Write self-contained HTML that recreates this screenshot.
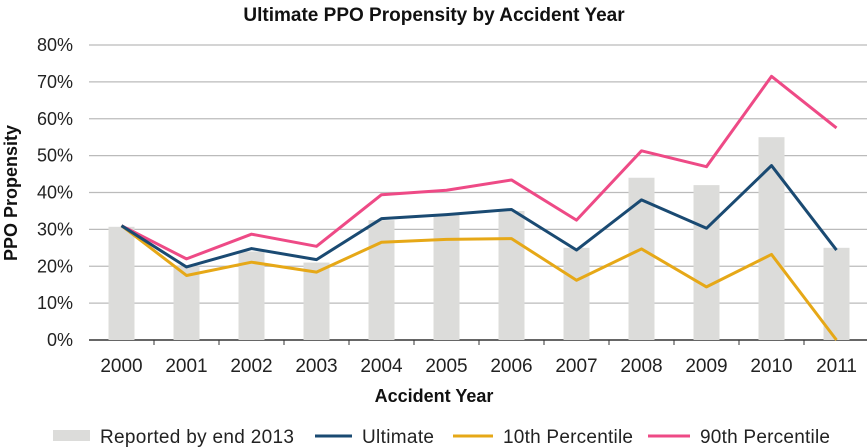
<!DOCTYPE html>
<html><head><meta charset="utf-8"><style>
body{margin:0;background:#fff;}
svg{display:block;font-family:"Liberation Sans",sans-serif;}
</style></head><body>
<svg id="chart" width="867" height="448">
<text x="434" y="21" text-anchor="middle" font-size="19" font-weight="bold" fill="#111">Ultimate PPO Propensity by Accident Year</text>
<text transform="translate(17,193) rotate(-90)" text-anchor="middle" font-size="18" font-weight="bold" fill="#111">PPO Propensity</text>
<text x="434" y="402" text-anchor="middle" font-size="18" font-weight="bold" fill="#111">Accident Year</text>
<g id="grid"></g><g id="bars"></g><g id="lines"></g><g id="axes"></g>
<g font-size="19" fill="#222">
<rect x="53" y="430" width="37" height="11" fill="#dcdcda"/>
<text x="100" y="443" textLength="194">Reported by end 2013</text>
<line x1="315" y1="436" x2="352" y2="436" stroke="#1a4a72" stroke-width="3"/>
<text x="362" y="443" textLength="72">Ultimate</text>
<line x1="453" y1="436" x2="493" y2="436" stroke="#e6a817" stroke-width="3"/>
<text x="503" y="443" textLength="130">10th Percentile</text>
<line x1="648" y1="436" x2="690" y2="436" stroke="#ee4a86" stroke-width="3"/>
<text x="700" y="443" textLength="130">90th Percentile</text>
</g>
</svg>
<script>
const categories=["2000","2001","2002","2003","2004","2005","2006","2007","2008","2009","2010","2011"];
const reported=[30.7,20,24,21,32.5,34,35,25,44,42,55,25];
const ultimate=[31,19.8,24.8,21.8,32.9,34,35.4,24.4,38,30.3,47.3,24.4];
const p10=[31,17.5,21.1,18.4,26.5,27.3,27.5,16.2,24.7,14.4,23.2,0];
const p90=[31,22,28.7,25.4,39.4,40.6,43.4,32.5,51.3,47,71.5,57.5];
const yTicks=[0,10,20,30,40,50,60,70,80];
const NS="http://www.w3.org/2000/svg";
const L=89,R=869,T=45,B=340;
const band=(R-L)/categories.length;
const x=i=>L+band*(i+0.5);
const y=v=>B-(v/80)*(B-T);
function mk(tag,attrs,parent){const e=document.createElementNS(NS,tag);for(const k in attrs)e.setAttribute(k,attrs[k]);document.getElementById(parent).appendChild(e);return e;}
yTicks.forEach(t=>{
  const g=mk('line',{x1:L,x2:R,y1:y(t),y2:y(t),stroke:t===0?'#333':'#bbb','stroke-width':t===0?1.5:1.3},'grid');
  
  
  const tx=mk('text',{x:73,y:y(t)+6,'text-anchor':'end','font-size':18,fill:'#222'},'axes');
  tx.textContent=t+'%';
  
  
});
categories.forEach((c,i)=>{
  const b=mk('rect',{x:x(i)-13,y:y(reported[i]),width:26,height:B-y(reported[i]),fill:'#dcdcda'},'bars');
  
  
  const tk=mk('line',{x1:L+band*(i+1),x2:L+band*(i+1),y1:B,y2:B+5,stroke:'#333'},'axes');
  
  
  const tx=mk('text',{x:x(i),y:372,'text-anchor':'middle','font-size':19,fill:'#222'},'axes');
  tx.textContent=c;
  
  
});
[[p90,'#ee4a86','line-90th'],[p10,'#e6a817','line-10th'],[ultimate,'#1a4a72','line-ultimate']].forEach(([d,col,n])=>{
  const p=mk('polyline',{points:d.map((v,i)=>x(i)+','+y(v)).join(' '),fill:'none',stroke:col,'stroke-width':3,'stroke-linejoin':'round'},'lines');
  
  
});
</script>
</body></html>
